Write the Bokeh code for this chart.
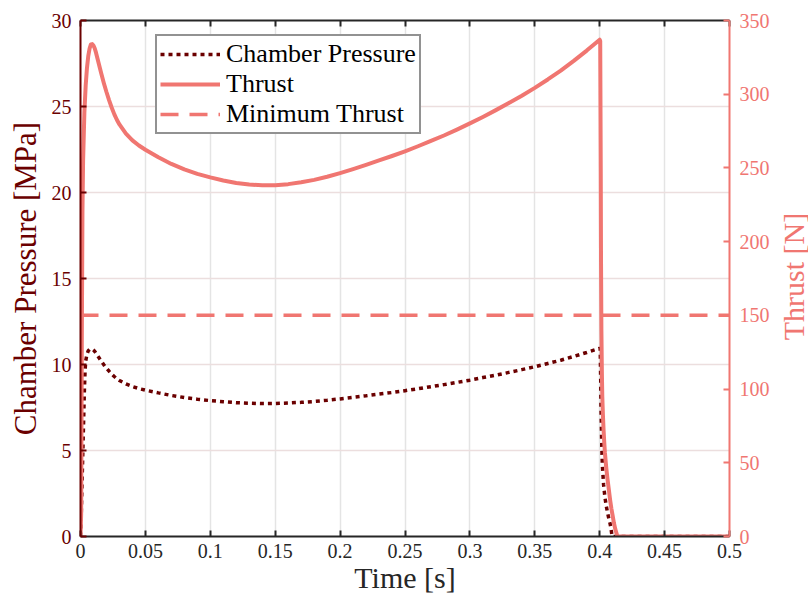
import math
from bokeh.plotting import figure
from bokeh.layouts import row
from bokeh.models import (LinearAxis, Range1d, Legend, LegendItem, FixedTicker,
                          CustomJSTickFormatter, Label)
from bokeh.embed import file_html
from bokeh.resources import INLINE

# ---- data ----
thrust_time = [0.0, 0.0005, 0.001, 0.0015, 0.002, 0.003, 0.004, 0.005, 0.006, 0.007,
               0.008, 0.009, 0.010, 0.011, 0.012, 0.014, 0.016, 0.018, 0.020, 0.022,
               0.024, 0.026, 0.028, 0.030, 0.035, 0.040, 0.045, 0.050, 0.060, 0.070,
               0.080, 0.090, 0.100, 0.110, 0.120, 0.130, 0.140, 0.150, 0.160, 0.170,
               0.180, 0.190, 0.200, 0.210, 0.220, 0.230, 0.240, 0.250, 0.260, 0.270,
               0.280, 0.290, 0.300, 0.310, 0.320, 0.330, 0.340, 0.350, 0.360, 0.370,
               0.380, 0.390, 0.400, 0.4004, 0.4008, 0.401, 0.4013, 0.4017, 0.402, 0.4025,
               0.403, 0.4035, 0.404, 0.405, 0.406, 0.407, 0.408, 0.409, 0.410, 0.411,
               0.412, 0.413, 0.4135, 0.414, 0.500]
thrust_n = [0, 15, 130, 220, 255, 288, 306, 318, 326, 331,
            333.8, 334, 333, 331, 328, 321, 314, 307.5, 301.5, 296,
            291, 286.5, 282.7, 279.5, 273.3, 268.7, 265.2, 262.3, 257.2, 252.7,
            249, 246, 243.6, 241.5, 239.8, 238.7, 238.2, 238.3, 239, 240.3,
            241.9, 244, 246.5, 249.2, 252.1, 255.1, 258.1, 261.3, 264.7, 268.3,
            272, 276, 280.2, 284.6, 289.2, 294, 299, 304.3, 310, 316,
            322.6, 329.6, 337, 336, 250, 190, 140, 110, 95, 82,
            72, 64, 57, 47, 39, 32, 25, 19, 14, 9,
            5, 2, 0.5, 0, 0]

pressure_time = [0.0, 0.0005, 0.001, 0.0015, 0.002, 0.0025, 0.003, 0.0035, 0.004, 0.005,
                 0.006, 0.007, 0.008, 0.009, 0.010, 0.011, 0.012, 0.014, 0.016, 0.018,
                 0.020, 0.022, 0.024, 0.026, 0.028, 0.030, 0.035, 0.040, 0.045, 0.050,
                 0.060, 0.070, 0.080, 0.090, 0.100, 0.110, 0.120, 0.130, 0.140, 0.150,
                 0.160, 0.170, 0.180, 0.190, 0.200, 0.210, 0.220, 0.230, 0.240, 0.250,
                 0.260, 0.270, 0.280, 0.290, 0.300, 0.310, 0.320, 0.330, 0.340, 0.350,
                 0.360, 0.370, 0.380, 0.390, 0.400, 0.4004, 0.4008, 0.401, 0.4015, 0.402,
                 0.403, 0.404, 0.405, 0.406, 0.407, 0.408, 0.4085, 0.409, 0.4095, 0.500]
pressure_mpa = [0, 1.0, 2.5, 4.0, 5.5, 7.0, 8.5, 9.6, 10.2, 10.6,
                10.8, 10.88, 10.9, 10.9, 10.84, 10.76, 10.65, 10.42, 10.19, 9.98,
                9.79, 9.61, 9.44, 9.3, 9.17, 9.07, 8.87, 8.72, 8.6, 8.51,
                8.35, 8.2, 8.08, 7.98, 7.9, 7.84, 7.78, 7.75, 7.73, 7.73,
                7.76, 7.8, 7.85, 7.92, 8.0, 8.09, 8.18, 8.28, 8.37, 8.48,
                8.59, 8.71, 8.83, 8.96, 9.09, 9.24, 9.38, 9.54, 9.7, 9.87,
                10.06, 10.25, 10.47, 10.7, 10.94, 10.9, 9.0, 7.5, 5.6, 4.2,
                3.0, 2.3, 1.8, 1.4, 1.05, 0.75, 0.55, 0.3, 0, 0]

min_thrust_time = [0.0, 0.5]
min_thrust_n = [150, 150]

x_ticks = [0, 0.05, 0.1, 0.15, 0.2, 0.25, 0.3, 0.35, 0.4, 0.45, 0.5]
left_ticks = [0, 5, 10, 15, 20, 25, 30]
right_ticks = [0, 50, 100, 150, 200, 250, 300, 350]

# ---- style ----
DARK = "#6b0000"
SALMON = "#f07671"
GRAY = "#262626"
FONT = "Liberation Serif"

p = figure(width=772, height=602, output_backend="svg", toolbar_location=None,
           x_range=Range1d(0, 0.5), y_range=Range1d(0, 30),
           min_border_left=80, min_border_right=40, min_border_top=20,
           min_border_bottom=66, background_fill_color="white",
           border_fill_color="white")
p.extra_y_ranges = {"thrust": Range1d(0, 350)}
p.outline_line_color = None

# grids
p.xgrid.ticker = FixedTicker(ticks=x_ticks)
p.xgrid.grid_line_color = "#e4e4e4"
p.xgrid.grid_line_width = 1.5
p.ygrid.ticker = FixedTicker(ticks=left_ticks)
p.ygrid.grid_line_color = "#ecdede"
p.ygrid.grid_line_width = 1.5

# lines
r_p = p.line(pressure_time, pressure_mpa, line_color=DARK, line_width=3.5,
             line_dash="4 4")
r_t = p.line(thrust_time, thrust_n, line_color=SALMON, line_width=4,
             y_range_name="thrust", line_join="round")
r_m = p.line(min_thrust_time, min_thrust_n, line_color=SALMON, line_width=3.5,
             line_dash="18 11", y_range_name="thrust")

# bottom axis
xa = p.xaxis[0]
xa.ticker = FixedTicker(ticks=x_ticks)
xa.axis_label = "Time [s]"

# left axis
ya = p.yaxis[0]
ya.ticker = FixedTicker(ticks=left_ticks)
ya.axis_label = "Chamber Pressure [MPa]"

# right axis (ticks and numbers; its title sits in a narrow strip beside)
ra = LinearAxis(y_range_name="thrust", ticker=FixedTicker(ticks=right_ticks))
p.add_layout(ra, "right")

# top axis (box, ticks only)
ta = LinearAxis(ticker=FixedTicker(ticks=x_ticks),
                formatter=CustomJSTickFormatter(code="return ''"))
p.add_layout(ta, "above")

for ax in (xa, ya, ra, ta):
    ax.major_tick_in = 6
    ax.major_tick_out = 0
    ax.minor_tick_line_color = None
    ax.axis_line_width = 2
    ax.major_tick_line_width = 2
    ax.major_label_text_font = FONT
    ax.major_label_text_font_size = "20px"
    ax.axis_label_text_font = FONT
    ax.axis_label_text_font_style = "normal"
    ax.axis_label_text_font_size = "30px"

for ax in (xa, ta):
    ax.axis_line_color = GRAY
    ax.major_tick_line_color = GRAY
    ax.major_label_text_color = GRAY
    ax.axis_label_text_color = GRAY
ta.major_label_text_font_size = "0px"
ta.major_label_standoff = 0

xa.major_label_standoff = 7
xa.axis_label_standoff = 0

ya.axis_line_color = DARK
ya.major_tick_line_color = DARK
ya.major_label_text_color = DARK
ya.axis_label_text_color = DARK
ya.axis_label_text_font_size = "31px"
ya.major_label_standoff = 9
ya.axis_label_standoff = 6

ra.axis_line_color = SALMON
ra.major_tick_line_color = SALMON
ra.major_label_text_color = SALMON
ra.major_label_standoff = 10

legend = Legend(items=[LegendItem(label="Chamber Pressure", renderers=[r_p]),
                       LegendItem(label="Thrust", renderers=[r_t]),
                       LegendItem(label="Minimum Thrust", renderers=[r_m])],
                location=(75, 402))
legend.label_text_font = FONT
legend.label_text_font_size = "26px"
legend.label_text_color = "black"
legend.glyph_width = 60
legend.glyph_height = 30
legend.label_height = 30
legend.label_standoff = 6
legend.spacing = 0
legend.padding = 3
legend.margin = 0
legend.border_line_color = GRAY
legend.border_line_width = 2
legend.background_fill_color = "white"
legend.background_fill_alpha = 1
p.add_layout(legend, "center")

# narrow strip holding the right-hand axis title (reads bottom to top)
p2 = figure(width=36, height=602, output_backend="svg", toolbar_location=None,
            x_range=Range1d(0, 1), y_range=Range1d(0, 1),
            x_axis_location=None, y_axis_location=None,
            min_border=0, background_fill_color="white",
            border_fill_color="white")
p2.outline_line_color = None
p2.grid.visible = False
p2.add_layout(Label(x=21, y=260, x_units="screen", y_units="screen",
                    text="Thrust [N]", angle=math.pi / 2, text_align="center",
                    text_baseline="middle", text_color=SALMON,
                    text_font=FONT, text_font_size="30px"))

layout = row(p, p2, spacing=0)
open("out.html", "w").write(file_html(layout, INLINE))
